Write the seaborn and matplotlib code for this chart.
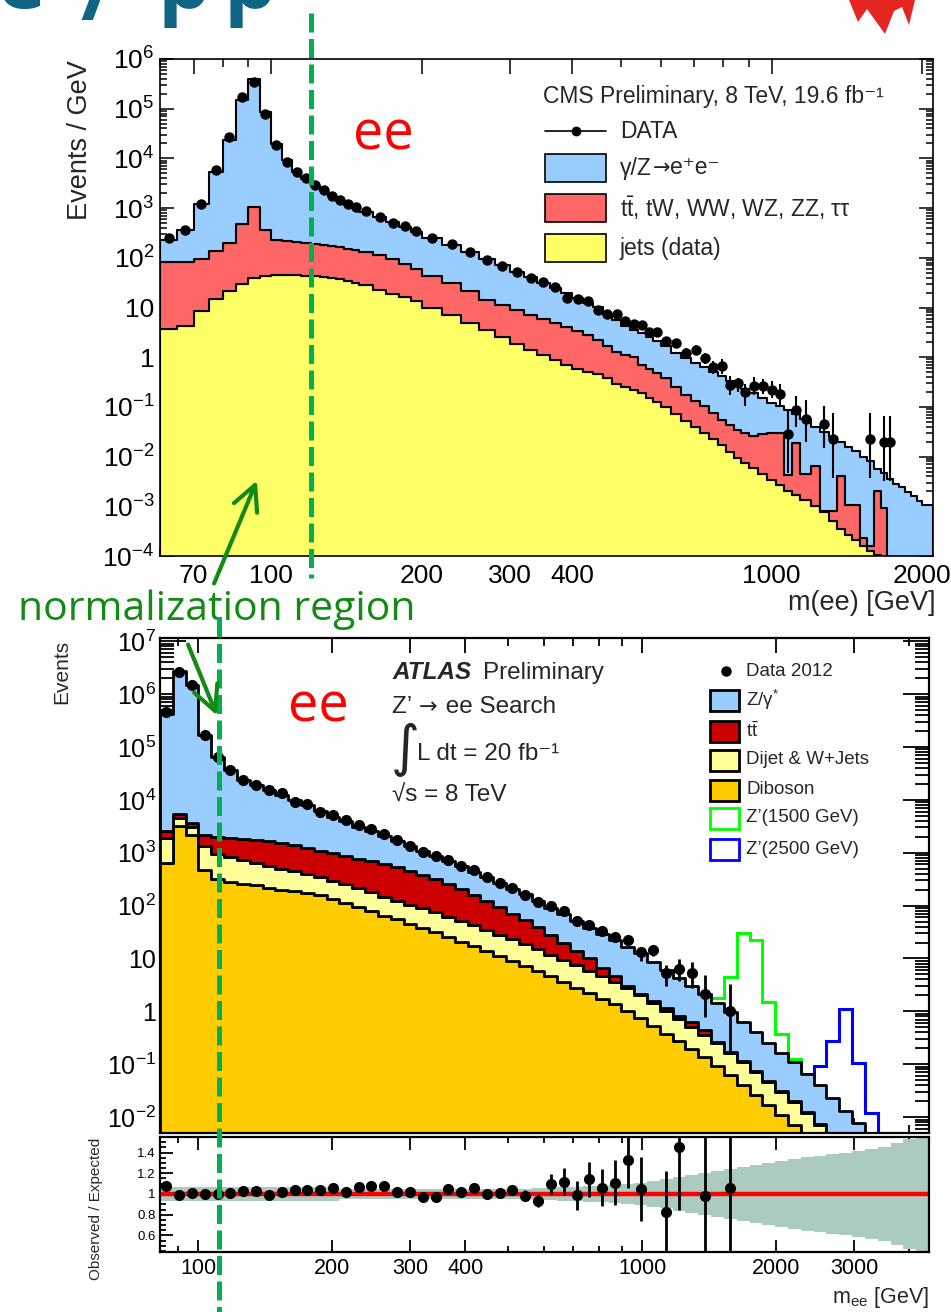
import numpy as np
import pandas as pd
import matplotlib
matplotlib.use("Agg")
import matplotlib.pyplot as plt
import matplotlib.transforms as mtransforms
from matplotlib.patches import Rectangle, FancyArrowPatch, Polygon
from matplotlib.lines import Line2D
from matplotlib.ticker import FixedLocator, FuncFormatter, LogLocator, MultipleLocator, NullFormatter
import seaborn as sns

nan = np.nan

# ======================= CMS panel (top) : Events / GeV =======================
cms_edges = [60, 65, 70, 75, 80, 85, 90, 95, 100, 105, 110, 115, 120, 125, 130, 135, 140, 145, 150,
             160, 170, 180, 190, 200, 220, 240, 260, 280, 300, 320, 340, 360, 380, 400, 420, 440, 460,
             480, 500, 520, 540, 560, 580, 600, 630, 660, 690, 720, 750, 780, 810, 840, 870, 900, 940,
             980, 1020, 1060, 1100, 1140, 1200, 1250, 1300, 1350, 1400, 1450, 1500, 1550, 1600, 1650,
             1700, 1750, 1800, 1850, 1900, 1950, 2000, 2100]
# log10 of stack tops
cms_log_total = [2.35, 2.55, 3.08, 3.72, 4.37, 5.17, 5.60, 4.93, 4.29, 3.96,
                 3.72, 3.58, 3.45, 3.34, 3.24, 3.15, 3.07, 3.00, 2.93, 2.82,
                 2.72, 2.62, 2.52, 2.39, 2.26, 2.12, 1.98, 1.85, 1.72, 1.61,
                 1.50, 1.40, 1.29, 1.19, 1.09, 1.00, 0.87, 0.74, 0.62, 0.55,
                 0.48, 0.40, 0.32, 0.22, 0.08, -0.02, -0.12, -0.20, -0.30, -0.38,
                 -0.47, -0.56, -0.64, -0.72, -0.82, -0.92, -0.99, -1.06, -1.15, -1.24,
                 -1.40, -1.50, -1.60, -1.70, -1.80, -1.88, -2.00, -2.08, -2.25, -2.32,
                 -2.45, -2.55, -2.62, -2.72, -2.80, -2.89, -2.97]
cms_log_ewk_top = [1.91, 1.91, 1.97, 2.13, 2.29, 2.69, 3.02, 2.55, 2.35, 2.33,
                   2.31, 2.30, 2.28, 2.26, 2.23, 2.21, 2.18, 2.15, 2.11, 2.06,
                   1.97, 1.87, 1.77, 1.64, 1.50, 1.33, 1.16, 1.05, 0.95, 0.84,
                   0.76, 0.68, 0.60, 0.52, 0.44, 0.35, 0.22, 0.10, 0.05, 0.00,
                   -0.15, -0.23, -0.32, -0.41, -0.60, -0.77, -0.88, -0.98, -1.12, -1.26,
                   -1.36, -1.46, -1.52, -1.58, -1.55, -1.52, -1.52, -2.37, -1.72, -2.35,
                   -2.19, -3.09, -3.09, -2.39, -2.97, -2.97, -3.64, -3.80, -2.69, -3.03,
                   nan, nan, nan, nan, nan, nan, nan]
cms_log_jets = [0.56, 0.63, 0.93, 1.17, 1.34, 1.47, 1.60, 1.64, 1.66, 1.66,
                1.65, 1.64, 1.63, 1.61, 1.59, 1.57, 1.54, 1.50, 1.45, 1.36,
                1.28, 1.21, 1.13, 0.98, 0.84, 0.69, 0.54, 0.40, 0.27, 0.14,
                0.04, -0.06, -0.15, -0.23, -0.30, -0.34, -0.42, -0.53, -0.60, -0.67,
                -0.73, -0.82, -0.90, -1.00, -1.15, -1.28, -1.40, -1.52, -1.64, -1.76,
                -1.90, -2.02, -2.12, -2.22, -2.35, -2.47, -2.58, -2.69, -2.78, -2.88,
                -3.00, -3.12, -3.30, -3.45, -3.58, -3.68, -3.80, -3.90, -3.97, nan,
                nan, nan, nan, nan, nan, nan, nan]
cms_log_data = [2.39, 2.55, 3.08, 3.76, 4.43, 5.23, 5.54, 4.89, 4.27, 3.92,
                3.72, 3.60, 3.46, 3.36, 3.24, 3.16, 3.08, 3.02, 2.94, 2.83,
                2.71, 2.63, 2.53, 2.39, 2.27, 2.11, 1.95, 1.83, 1.71, 1.60,
                1.52, 1.42, 1.20, 1.18, 1.14, 0.94, 0.86, 0.86, 0.72, 0.66,
                0.64, 0.50, 0.50, 0.33, 0.29, 0.09, 0.15, -0.01, -0.19, -0.17,
                -0.55, -0.51, -0.71, -0.57, -0.57, -0.65, -0.75, -1.54, -1.06, -1.24,
                nan, -1.34, -1.64, nan, nan, nan, nan, -1.64, nan, -1.70,
                -1.70, nan, nan, nan, nan, nan, nan]
cms_err_up = [0, 0, 0, 0, 0, 0, 0, 0, 0, 0,
              0, 0, 0, 0, 0, 0, 0, 0, 0, 0,
              0, 0, 0, 0, 0, 0, 0, 0, 0, 0,
              0.03, 0.03, 0.03, 0.03, 0.03, 0.04, 0.04, 0.04, 0.04, 0.05,
              0.05, 0.06, 0.06, 0.07, 0.07, 0.09, 0.09, 0.10, 0.12, 0.13,
              0.18, 0.10, 0.17, 0.17, 0.13, 0.17, 0.22, 0.45, 0.28, 0.38,
              0, 0.36, 0.52, 0, 0, 0, 0, 0.52, 0, 0.52,
              0.52, 0, 0, 0, 0, 0, 0]
cms_err_dn = [0, 0, 0, 0, 0, 0, 0, 0, 0, 0,
              0, 0, 0, 0, 0, 0, 0, 0, 0, 0,
              0, 0, 0, 0, 0, 0, 0, 0, 0, 0,
              0.03, 0.03, 0.03, 0.03, 0.04, 0.04, 0.04, 0.05, 0.05, 0.06,
              0.06, 0.07, 0.07, 0.08, 0.09, 0.11, 0.11, 0.12, 0.15, 0.17,
              0.22, 0.20, 0.27, 0.20, 0.17, 0.17, 0.22, 0.79, 0.35, 0.46,
              0, 0.48, 0.79, 0, 0, 0, 0, 0.79, 0, 0.79,
              0.79, 0, 0, 0, 0, 0, 0]
cms_y_ticks = [1e-4, 1e-3, 1e-2, 1e-1, 1, 10, 1e2, 1e3, 1e4, 1e5, 1e6]
cms_x_ticks = [70, 100, 200, 300, 400, 1000, 2000]

# ======================= ATLAS panel (bottom) : Events =======================
atl_range = (82, 4430)
atl_nbins = 60
atl_log_total = [5.63, 6.43, 6.17, 5.22, 4.81, 4.56, 4.37, 4.28, 4.19, 4.10,
                 3.99, 3.90, 3.78, 3.67, 3.60, 3.49, 3.41, 3.32, 3.23, 3.12,
                 3.03, 2.94, 2.84, 2.74, 2.64, 2.54, 2.43, 2.32, 2.21, 2.09,
                 1.96, 1.84, 1.71, 1.58, 1.47, 1.35, 1.22, 1.10, 0.93, 0.79,
                 0.63, 0.47, 0.33, 0.16, -0.02, -0.20, -0.40, -0.59, -0.78, -0.96,
                 -1.18, -1.40, -1.63, -1.88, -2.12, -2.36, -2.60, -2.85, -3.10, -3.35]
atl_log_ttbar_top = [3.42, 3.74, 3.57, 3.34, 3.29, 3.28, 3.26, 3.24, 3.22, 3.18,
                     3.14, 3.09, 3.04, 2.99, 2.94, 2.89, 2.84, 2.79, 2.73, 2.66,
                     2.58, 2.50, 2.41, 2.31, 2.20, 2.09, 1.97, 1.85, 1.72, 1.59,
                     1.45, 1.30, 1.15, 1.00, 0.82, 0.66, 0.48, 0.33, 0.19, 0.06,
                     -0.08, -0.21, -0.35, -0.58, -0.76, -0.94, -1.13, -1.32, -1.51, -1.70,
                     -1.91, -2.13, -2.36, -2.60, -2.84, -3.08, -3.33, -3.58, -3.83, -4.08]
atl_log_dijet_top = [3.27, 3.65, 3.48, 3.12, 2.98, 2.91, 2.86, 2.80, 2.75, 2.70,
                     2.66, 2.60, 2.54, 2.47, 2.40, 2.33, 2.25, 2.16, 2.09, 2.02,
                     1.95, 1.87, 1.79, 1.71, 1.63, 1.54, 1.45, 1.36, 1.27, 1.17,
                     1.07, 0.97, 0.87, 0.77, 0.67, 0.56, 0.44, 0.30, 0.15, 0.01,
                     -0.14, -0.29, -0.44, -0.60, -0.78, -0.96, -1.15, -1.34, -1.53, -1.72,
                     -1.93, -2.15, -2.38, -2.62, -2.86, -3.10, -3.35, -3.60, -3.85, -4.10]
atl_log_diboson = [2.80, 3.51, 3.33, 2.68, 2.51, 2.44, 2.41, 2.38, 2.34, 2.30,
                   2.27, 2.24, 2.20, 2.13, 2.05, 1.97, 1.89, 1.81, 1.74, 1.66,
                   1.58, 1.50, 1.41, 1.32, 1.23, 1.14, 1.05, 0.96, 0.86, 0.76,
                   0.66, 0.55, 0.44, 0.34, 0.24, 0.13, 0.01, -0.13, -0.28, -0.42,
                   -0.57, -0.72, -0.87, -1.03, -1.21, -1.39, -1.58, -1.77, -1.96, -2.15,
                   -2.36, -2.58, -2.81, -3.05, -3.30, -3.55, -3.80, -4.05, -4.30, -4.55]
atl_log_data = [5.66, 6.42, 6.17, 5.22, 4.81, 4.56, 4.38, 4.29, 4.19, 4.12,
                3.96, 3.93, 3.77, 3.71, 3.61, 3.52, 3.44, 3.35, 3.24, 3.13,
                3.02, 2.93, 2.86, 2.75, 2.67, 2.54, 2.43, 2.34, 2.20, 2.06,
                2.00, 1.89, 1.71, 1.64, 1.51, 1.40, 1.34, 1.12, 1.16, 0.72,
                0.80, 0.72, 0.33, nan, 0.01, nan, nan, nan, nan, nan,
                nan, nan, nan, nan, nan, nan, nan, nan, nan, nan]
atl_err_up = [0, 0, 0, 0, 0, 0, 0, 0, 0, 0,
              0, 0, 0, 0, 0, 0, 0, 0, 0, 0,
              0, 0, 0, 0, 0, 0, 0, 0, 0, 0,
              0.02, 0.02, 0.03, 0.03, 0.05, 0.06, 0.07, 0.10, 0.08, 0.15,
              0.19, 0.21, 0.35, 0, 0.50, 0, 0, 0, 0, 0,
              0, 0, 0, 0, 0, 0, 0, 0, 0, 0]
atl_err_dn = [0, 0, 0, 0, 0, 0, 0, 0, 0, 0,
              0, 0, 0, 0, 0, 0, 0, 0, 0, 0,
              0, 0, 0, 0, 0, 0, 0, 0, 0, 0,
              0.02, 0.02, 0.03, 0.03, 0.06, 0.07, 0.08, 0.16, 0.11, 0.25,
              0.22, 0.27, 0.44, 0, 0.76, 0, 0, 0, 0, 0,
              0, 0, 0, 0, 0, 0, 0, 0, 0, 0]
atl_log_zp1500 = [nan] * 43 + [0.26, 0.64, 1.49, 1.34, 0.17, -0.42, -0.90] + [nan] * 10
atl_log_zp2500 = [nan] * 51 + [-1.03, -0.56, 0.04, -0.97, -1.92] + [nan] * 4
atl_y_ticks = [1e-2, 1e-1, 1, 10, 1e2, 1e3, 1e4, 1e5, 1e6, 1e7]
atl_x_ticks = [100, 200, 300, 400, 1000, 2000, 3000]

ratio_vals = [1.074, 0.987, 1.01, 1.0, 1.0, 1.01, 1.026, 1.026, 0.99, 1.02,
              1.04, 1.035, 1.04, 1.06, 1.016, 1.07, 1.08, 1.074, 1.02, 1.02,
              0.968, 0.968, 1.05, 1.016, 1.06, 1.0, 1.01, 1.04, 0.984, 0.935,
              1.097, 1.12, 0.99, 1.14, 1.06, 1.11, 1.33, 1.05, nan, 0.83,
              1.45, nan, 0.98, nan, 1.06, nan, nan, nan, nan, nan,
              nan, nan, nan, nan, nan, nan, nan, nan, nan, nan]
ratio_err = [0.01, 0.01, 0.01, 0.01, 0.01, 0.01, 0.01, 0.01, 0.01, 0.01,
             0.01, 0.01, 0.01, 0.01, 0.01, 0.015, 0.015, 0.015, 0.02, 0.02,
             0.02, 0.025, 0.035, 0.035, 0.04, 0.04, 0.045, 0.05, 0.055, 0.065,
             0.10, 0.13, 0.14, 0.17, 0.18, 0.22, 0.27, 0.31, 0, 0.39,
             0.60, 0, 1.0, 0, 1.0, 0, 0, 0, 0, 0,
             0, 0, 0, 0, 0, 0, 0, 0, 0, 0]
ratio_band = [0.07, 0.07, 0.07, 0.07, 0.07, 0.07, 0.07, 0.07, 0.07, 0.07,
              0.07, 0.07, 0.07, 0.07, 0.05, 0.05, 0.05, 0.05, 0.05, 0.05,
              0.05, 0.05, 0.05, 0.05, 0.05, 0.05, 0.05, 0.05, 0.05, 0.055,
              0.06, 0.065, 0.07, 0.075, 0.08, 0.09, 0.10, 0.11, 0.125, 0.14,
              0.16, 0.18, 0.20, 0.22, 0.24, 0.26, 0.28, 0.30, 0.32, 0.34,
              0.355, 0.37, 0.385, 0.40, 0.415, 0.43, 0.45, 0.49, 0.53, 0.57]
ratio_y_ticks = [0.6, 0.8, 1.0, 1.2, 1.4]

# ======================= styling =======================
sns.set_style("ticks")
plt.rcParams["font.family"] = ["Liberation Sans", "DejaVu Sans"]
plt.rcParams["mathtext.fontset"] = "custom"
plt.rcParams["mathtext.rm"] = "Liberation Sans"
plt.rcParams["mathtext.it"] = "Liberation Sans:italic"
plt.rcParams["mathtext.bf"] = "Liberation Sans:bold"
plt.rcParams["mathtext.sf"] = "Liberation Sans"
plt.rcParams["axes.edgecolor"] = "black"

W, H = 951, 1312
fig = plt.figure(figsize=(W / 100, H / 100), dpi=100)
fig.patch.set_facecolor("white")
renderer = fig.canvas.get_renderer()


def fbox(x0, y0, x1, y1):
    return [x0 / W, 1 - y1 / H, (x1 - x0) / W, (y1 - y0) / H]


def ftext(x, y, s, **kw):
    return fig.text(x / W, 1 - y / H, s, **kw)


def chain_text(x, y, parts, gap=0.0, **common):
    cur = x
    for s, kw in parts:
        t = ftext(cur, y, s, ha="left", **{**common, **kw})
        bb = t.get_window_extent(renderer=renderer)
        cur = bb.x1 + gap


ax_top = fig.add_axes(fbox(160, 59, 933, 556))
ax_bot = fig.add_axes(fbox(160, 638, 929, 1133))
ax_rat = fig.add_axes(fbox(160, 1137, 929, 1252))


def lvl(a):
    a = np.asarray(a, dtype=float)
    return np.where(np.isnan(a), 0.0, 10.0 ** a)


def draw_stack(ax, edges, names, values, colors, lw):
    edges = np.asarray(edges, dtype=float)
    centers = np.sqrt(edges[:-1] * edges[1:])
    df = pd.concat([pd.DataFrame({"m": centers, "w": v, "comp": n}) for n, v in zip(names, values)],
                   ignore_index=True)
    sns.histplot(data=df, x="m", weights="w", hue="comp", hue_order=names, multiple="stack",
                 bins=[float(e) for e in edges], element="step", fill=True,
                 palette=dict(zip(names, colors)),
                 edgecolor="black", linewidth=lw, alpha=1.0, legend=False, ax=ax)
    ax.set_xlabel("")
    ax.set_ylabel("")
    return centers


def log_label(v, pos):
    e = int(round(np.log10(v)))
    if e == 0:
        return "1"
    if e == 1:
        return "10"
    return r"$\mathregular{10^{%d}}$" % e


def minor_log_ticks(lo, hi):
    out = []
    for d in range(int(np.floor(np.log10(lo))), int(np.ceil(np.log10(hi))) + 1):
        for k in range(2, 10):
            v = k * 10.0 ** d
            if lo < v < hi:
                out.append(v)
    return out


# ---------------- top (CMS) ----------------
c_edges = np.asarray(cms_edges, dtype=float)
jets = lvl(cms_log_jets)
ewk = np.clip(lvl(cms_log_ewk_top) - jets, 0, None)
dy = np.clip(lvl(cms_log_total) - lvl(cms_log_ewk_top), 0, None)
c_centers = draw_stack(ax_top, c_edges, ["dy", "ewk", "jets"], [dy, ewk, jets],
                       ["#99ccff", "#ff6666", "#ffff66"], 1.5)
ax_top.set_xscale("log")
ax_top.set_yscale("log")
ax_top.set_xlim(60, 2100)
ax_top.set_ylim(1e-4, 1e6)
cd = np.asarray(cms_log_data, dtype=float)
ax_top.errorbar(c_centers, 10 ** cd,
                yerr=[10 ** cd - 10 ** (cd - np.asarray(cms_err_dn)), 10 ** (cd + np.asarray(cms_err_up)) - 10 ** cd],
                fmt="o", color="black", ms=6.5, elinewidth=1.5, capsize=0, zorder=6)

ax_top.xaxis.set_major_locator(FixedLocator(cms_x_ticks))
ax_top.xaxis.set_major_formatter(FuncFormatter(lambda v, p: "%g" % v))
ax_top.xaxis.set_minor_locator(FixedLocator([v for v in minor_log_ticks(60, 2100) + [60, 1000]
                                             if v not in cms_x_ticks and 60 <= v < 2100]))
ax_top.xaxis.set_minor_formatter(NullFormatter())
ax_top.yaxis.set_major_locator(FixedLocator(cms_y_ticks))
ax_top.yaxis.set_major_formatter(FuncFormatter(log_label))
ax_top.yaxis.set_minor_locator(FixedLocator(minor_log_ticks(1e-4, 1e6)))
ax_top.yaxis.set_minor_formatter(NullFormatter())
ax_top.tick_params(which="both", direction="in", top=True, right=True, width=1.1, colors="black")
ax_top.tick_params(axis="y", which="major", length=10, labelsize=19, pad=4)
ax_top.tick_params(axis="y", which="minor", length=5)
ax_top.tick_params(axis="x", which="major", length=11, labelsize=19, pad=6)
ax_top.tick_params(axis="x", which="minor", length=5.5)
for s in ax_top.spines.values():
    s.set_linewidth(1.2)

ftext(80, 60, "Events / GeV", rotation=90, ha="center", va="top", fontsize=19.5)
ftext(935, 603, "m(ee) [GeV]", ha="right", va="center", fontsize=19.5)

# top legend
ftext(543, 96, "CMS Preliminary, 8 TeV, 19.6 fb⁻¹", ha="left", va="center", fontsize=16.5)
fig.add_artist(Line2D([545 / W, 606 / W], [1 - 131 / H] * 2, transform=fig.transFigure, color="black", lw=1.2))
fig.add_artist(Line2D([575.5 / W], [1 - 131 / H], transform=fig.transFigure, marker="o", ms=6, color="black"))
ftext(620, 131, "DATA", ha="left", va="center", fontsize=16.5)
legend_top = [(168, "#99ccff"), (208, "#ff6666"), (248, "#ffff66")]
for yc, col in legend_top:
    fig.add_artist(Rectangle((545 / W, 1 - (yc + 13.5) / H), 61 / W, 27 / H, transform=fig.transFigure,
                             facecolor=col, edgecolor="black", lw=1.2))
chain_text(620, 168, [("γ/Z", {}), ("→", {"family": "DejaVu Sans", "fontsize": 15}), ("e⁺e⁻", {})],
           gap=0.5, va="center", fontsize=16.5)
ftext(620, 208, r"t$\mathregular{\bar{t}}$, tW, WW, WZ, ZZ, ττ", ha="left", va="center", fontsize=16.5)
ftext(620, 248, "jets (data)", ha="left", va="center", fontsize=16.5)

# ---------------- bottom (ATLAS) ----------------
a_edges = np.geomspace(atl_range[0], atl_range[1], atl_nbins + 1)
dib = lvl(atl_log_diboson)
dij = np.clip(lvl(atl_log_dijet_top) - dib, 0, None)
ttb = np.clip(lvl(atl_log_ttbar_top) - lvl(atl_log_dijet_top), 0, None)
zg = np.clip(lvl(atl_log_total) - lvl(atl_log_ttbar_top), 0, None)
a_total = np.asarray(atl_log_total)


def signal_line(ax, levels, color):
    lv = np.asarray(levels, dtype=float)
    idx = np.where(~np.isnan(lv))[0]
    lo, hi = idx.min() - 1, idx.max() + 1
    seg = np.where(np.isnan(lv), a_total, lv)[lo:hi + 1]
    ax.stairs(10 ** seg, a_edges[lo:hi + 2], baseline=None, color=color, lw=2.2, zorder=1)


signal_line(ax_bot, atl_log_zp1500, "#00ff00")
signal_line(ax_bot, atl_log_zp2500, "#0000ff")
a_centers = draw_stack(ax_bot, a_edges, ["zg", "ttbar", "dijet", "diboson"], [zg, ttb, dij, dib],
                       ["#99ccff", "#cc0000", "#ffff99", "#ffcc00"], 2.0)
ax_bot.set_xscale("log")
ax_bot.set_yscale("log")
ax_bot.set_xlim(*atl_range)
ax_bot.set_ylim(5e-3, 1.15e7)
ad = np.asarray(atl_log_data, dtype=float)
ax_bot.errorbar(a_centers, 10 ** ad,
                yerr=[10 ** ad - 10 ** (ad - np.asarray(atl_err_dn)), 10 ** (ad + np.asarray(atl_err_up)) - 10 ** ad],
                fmt="o", color="black", ms=7, elinewidth=2, capsize=0, zorder=6)

for ax in (ax_bot, ax_rat):
    ax.set_xscale("log")
    ax.set_xlim(*atl_range)
    ax.xaxis.set_major_locator(FixedLocator(atl_x_ticks))
    ax.xaxis.set_major_formatter(FuncFormatter(lambda v, p: "%g" % v))
    ax.xaxis.set_minor_locator(FixedLocator([v for v in minor_log_ticks(*atl_range) + [1000]
                                             if v not in atl_x_ticks]))
    ax.xaxis.set_minor_formatter(NullFormatter())
    ax.tick_params(which="both", direction="in", top=True, right=True, width=1.3, colors="black")
    for s in ax.spines.values():
        s.set_linewidth(1.6)
ax_bot.tick_params(axis="x", which="major", length=11, labelbottom=False)
ax_bot.tick_params(axis="x", which="minor", length=6)
ax_bot.yaxis.set_major_locator(FixedLocator(atl_y_ticks))
ax_bot.yaxis.set_major_formatter(FuncFormatter(log_label))
ax_bot.yaxis.set_minor_locator(FixedLocator(minor_log_ticks(5e-3, 1.15e7)))
ax_bot.yaxis.set_minor_formatter(NullFormatter())
ax_bot.tick_params(axis="y", which="major", length=19, labelsize=18, pad=3)
ax_bot.tick_params(axis="y", which="minor", length=10)

ftext(62, 640, "Events", rotation=90, ha="center", va="top", fontsize=15)

# ATLAS labels
ftext(392, 679, "ATLAS", fontsize=17.5, fontweight="bold", fontstyle="italic", va="baseline")
ftext(483, 679, "Preliminary", fontsize=17.5, va="baseline")
chain_text(392, 713, [("Z’ ", {}), ("→", {"family": "DejaVu Sans", "fontsize": 16}), (" ee Search", {})],
           gap=1.0, va="baseline", fontsize=17.5)
ftext(391, 750, "∫", fontsize=40, va="center", ha="left", family="DejaVu Sans")
ftext(417, 760, "L dt = 20 fb⁻¹", fontsize=17.5, va="baseline")
ftext(392, 802, "√s = 8 TeV", fontsize=17.5, va="baseline")

# ATLAS legend
fig.add_artist(Line2D([726 / W], [1 - 671 / H], transform=fig.transFigure, marker="o", ms=6.5, color="black"))
ftext(746, 671, "Data 2012", ha="left", va="center", fontsize=13.5)
for yc, fc, ec, lab in [(700, "#99ccff", "black", r"Z/γ$^{\mathregular{*}}$"),
                        (731, "#cc0000", "black", r"t$\mathregular{\bar{t}}$"),
                        (760, "#ffff99", "black", "Dijet & W+Jets"),
                        (790, "#ffcc00", "black", "Diboson"),
                        (818, "none", "#00ff00", "Z’(1500 GeV)"),
                        (849, "none", "#0000ff", "Z’(2500 GeV)")]:
    fig.add_artist(Rectangle((710 / W, 1 - (yc + 10.5) / H), 29 / W, 21 / H, transform=fig.transFigure,
                             facecolor=fc, edgecolor=ec, lw=2))
    ftext(746, yc, lab, ha="left", va="center", fontsize=13.5)

# ---------------- ratio ----------------
rb = np.asarray(ratio_band)
ax_rat.stairs(1 + rb, a_edges, baseline=1 - rb, fill=True, color="#abcbc1", zorder=1)
ax_rat.axhline(1.0, color="#ff0000", lw=3.2, zorder=2)
ax_rat.errorbar(a_centers, ratio_vals, yerr=ratio_err, fmt="o", color="black", ms=7,
                elinewidth=2, capsize=0, zorder=5)
ax_rat.set_ylim(0.44, 1.55)
ax_rat.yaxis.set_major_locator(FixedLocator(ratio_y_ticks))
ax_rat.yaxis.set_major_formatter(FuncFormatter(lambda v, p: "%g" % round(v, 2)))
ax_rat.yaxis.set_minor_locator(FixedLocator([v / 100 for v in range(45, 155, 5) if v % 20 != 0]))
ax_rat.tick_params(axis="y", which="major", length=9, labelsize=9.5, pad=3)
ax_rat.tick_params(axis="y", which="minor", length=4.5)
ax_rat.tick_params(axis="x", which="major", length=9, labelsize=15.5, pad=4)
ax_rat.tick_params(axis="x", which="minor", length=4.5)
ftext(96, 1138, "Observed / Expected", rotation=90, ha="center", va="top", fontsize=11)
ftext(929, 1298, r"m$_{\mathregular{ee}}$ [GeV]", ha="right", va="center", fontsize=15.5)

# ---------------- slide annotations ----------------
GREEN_LINE = "#00b050"
GREEN_TXT = "#138a13"
tr_top = mtransforms.blended_transform_factory(ax_top.transData, fig.transFigure)
fig.add_artist(Line2D([120, 120], [1 - 13 / H, 1 - 578 / H], transform=tr_top, color=GREEN_LINE,
                      lw=3.6, ls=(0, (3.8, 1.3)), zorder=20))
tr_bot = mtransforms.blended_transform_factory(ax_bot.transData, fig.transFigure)
fig.add_artist(Line2D([111.5, 111.5], [1 - 618 / H, 0.0], transform=tr_bot, color=GREEN_LINE,
                      lw=3.6, ls=(0, (3.8, 1.3)), zorder=20))

ftext(18, 620, "normalization region", ha="left", va="baseline", fontsize=29.5,
      family="Open Sans", color=GREEN_TXT)
for (x0, y0), (x1, y1) in [((213, 586), (258, 478)), ((187, 642), (218, 718))]:
    fig.add_artist(FancyArrowPatch((x0 / W, 1 - y0 / H), (x1 / W, 1 - y1 / H), transform=fig.transFigure,
                                   arrowstyle="->,head_length=0.9,head_width=0.45", mutation_scale=20,
                                   color=GREEN_TXT, lw=3, zorder=21))
ftext(383, 150, "ee", ha="center", va="baseline", fontsize=39, family="Open Sans", color="#ff0000")
ftext(318, 722, "ee", ha="center", va="baseline", fontsize=39, family="Open Sans", color="#ff0000")

# slide title (cut by the top edge) and the corner of the logo
TEAL = "#0e6482"
for xs, ys, s in [(-4, 8, "e"), (80, 20, "/"), (158, 8, "p"), (223, 8, "p")]:
    ftext(xs, ys, s, ha="left", va="baseline", fontsize=60, fontweight="bold", family="Open Sans", color=TEAL)
fig.add_artist(Polygon([(849 / W, 1), (858 / W, 1 - 22 / H), (867 / W, 1 - 9 / H), (885 / W, 1 - 34 / H),
                        (894 / W, 1 - 11 / H), (902 / W, 1 - 7 / H), (909 / W, 1 - 25 / H), (915 / W, 1)],
                       closed=True, transform=fig.transFigure, facecolor="#e52620", edgecolor="none"))

fig.savefig("out.png", dpi=100)
